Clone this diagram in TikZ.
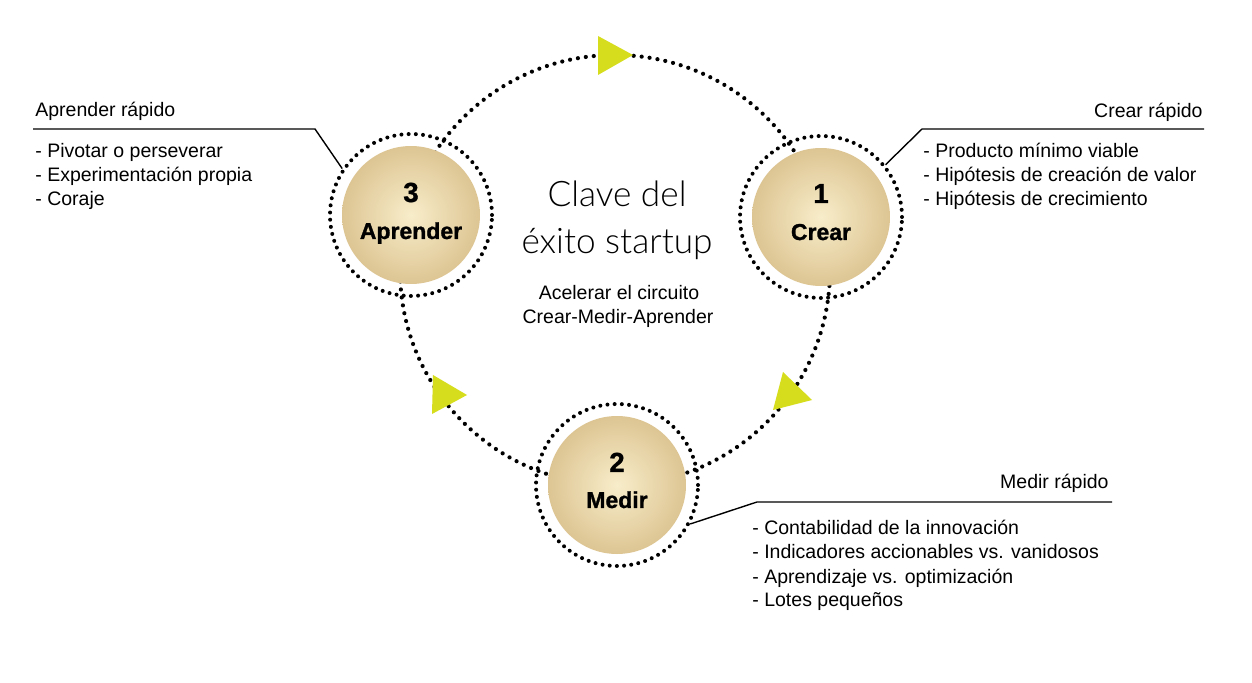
\documentclass[tikz,border=0pt]{standalone}
\usepackage{fontspec}
\setmainfont{Liberation Sans}
\IfFontExistsTF{Lato Light}{\newfontfamily\thinfont{Lato Light}}{\newfontfamily\thinfont{Liberation Sans}}
\newfontfamily\blackfont{Liberation Sans}[BoldFont={Liberation Sans Bold}, BoldFeatures={FakeBold=1.2}]
\usetikzlibrary{calc}
\definecolor{discin}{RGB}{248,237,202}
\definecolor{discout}{RGB}{221,197,147}
\definecolor{arrowc}{RGB}{213,221,28}
\begin{document}
\begin{tikzpicture}[x=0.5pt,y=-0.5pt,
  loopdots/.style={line width=2.1pt, line cap=round, dash pattern=on 0pt off 4pt, black},
  ringdots/.style={draw, circle, inner sep=0pt, minimum size=81pt, line width=2pt, line cap=round, dash pattern=on 0pt off 3.6pt},
  disc/.style={circle, inner sep=0pt, minimum size=69pt, inner color=discin, outer color=discout},
  digit/.style={font=\blackfont\bfseries\fontsize{13.8}{14}\selectfont, inner sep=0pt, anchor=base},
  word/.style={font=\blackfont\bfseries\fontsize{11.5}{13}\selectfont, inner sep=0pt, anchor=base},
  txt/.style={font=\fontsize{9.75}{12}\selectfont, inner sep=0pt},
  title/.style={font=\thinfont\fontsize{17.6}{20}\selectfont, inner sep=0pt, anchor=base},
  callout/.style={line width=0.7pt, black},
  tri/.style={fill=arrowc}
]
\useasboundingbox (0,0) rectangle (1252,683);
\fill[white] (0,0) rectangle (1252,683);

% main loop
\coordinate (loopc) at (615,270);
\draw[loopdots] (loopc) circle (215);

% arrowheads
\fill[tri] (598,36) -- (598,75) -- (633,55) -- cycle;
\fill[tri] (433,375) -- (432,414) -- (467,395) -- cycle;
\fill[tri] (783,372) -- (773,410) -- (812,400) -- cycle;

% circles
\node[ringdots] (r1) at (821,217) {};
\node[disc] (c1) at (821,217) {};
\node[ringdots] (r2) at (617,485) {};
\node[disc] (c2) at (617,485) {};
\node[ringdots] (r3) at (411,215) {};
\node[disc] (c3) at (411,215) {};

\node[digit] (d1) at (821,203) {1};
\node[word] (w1) at (821,240) {Crear};
\node[digit] (d2) at (617,472) {2};
\node[word] (w2) at (617,508) {Medir};
\node[digit] (d3) at (411,202) {3};
\node[word] (w3) at (411,239) {Aprender};

% centre text
\node[title] (t1) at (617,207) {Clave del};
\node[title] (t2) at (617,254) {éxito startup};
\node[txt, anchor=base] (s1) at (619,300) {Acelerar el circuito};
\node[txt, anchor=base] (s2) at (618,324) {Crear-Medir-Aprender};

% callouts
\coordinate (k3) at (315,129);
\coordinate (e3) at (33,129);
\draw[callout] (r3.146) -- (k3) -- (e3);
\coordinate (k1) at (922,129);
\coordinate (e1) at (1204,129);
\draw[callout] (r1.39) -- (k1) -- (e1);
\coordinate (k2) at (757,502);
\coordinate (e2) at (1112,502);
\draw[callout] (r2.-28) -- (k2) -- (e2);

% Aprender rápido
\node[txt, anchor=base west] (a0) at (35,117) {Aprender rápido};
\node[txt, anchor=base west] (a1) at (35,158) {- Pivotar o perseverar};
\node[txt, anchor=base west] (a2) at (35,182) {- Experimentación propia};
\node[txt, anchor=base west] (a3) at (35,206) {- Coraje};

% Crear rápido
\node[txt, anchor=base east] (b0) at (1203,118) {Crear rápido};
\node[txt, anchor=base west] (b1) at (923,158) {- Producto mínimo viable};
\node[txt, anchor=base west] (b2) at (923,182) {- Hipótesis de creación de valor};
\node[txt, anchor=base west] (b3) at (923,206) {- Hipótesis de crecimiento};

% Medir rápido
\node[txt, anchor=base east] (m0) at (1109,488) {Medir rápido};
\node[txt, anchor=base west] (m1) at (752,535) {- Contabilidad de la innovación};
\node[txt, anchor=base west] (m2) at (752,559) {- Indicadores accionables vs. vanidosos};
\node[txt, anchor=base west] (m3) at (752,583) {- Aprendizaje vs. optimización};
\node[txt, anchor=base west] (m4) at (752,606) {- Lotes pequeños};
\end{tikzpicture}
\end{document}
